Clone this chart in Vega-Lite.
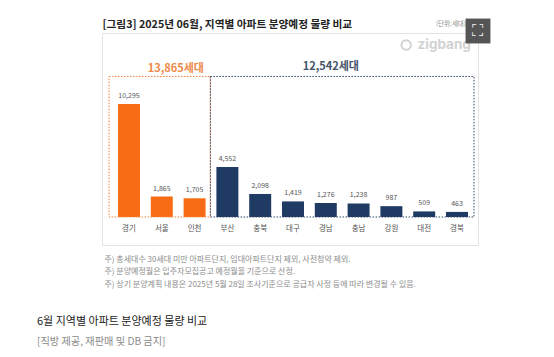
{"$schema":"https://vega.github.io/schema/vega-lite/v6.json","width":376,"height":212,"autosize":"none","padding":{"left":102,"top":33,"right":76,"bottom":112},"background":"white","view":{"stroke":"#e3e3e3","strokeWidth":1},"config":{"font":"Noto Sans CJK KR"},"title":{"text":"6월 지역별 아파트 분양예정 물량 비교","subtitle":"[직방 제공, 재판매 및 DB 금지]","orient":"bottom","anchor":"start","frame":"group","dx":-65,"offset":28,"fontSize":11,"fontWeight":"normal","color":"#222222","subtitleFontSize":10.2,"subtitleColor":"#8a8a8a","subtitlePadding":10,"font":"Noto Sans CJK KR","subtitleFont":"Noto Sans CJK KR"},"datasets":{"bars":[{"region":"경기","units":10295,"group":"수도권"},{"region":"서울","units":1865,"group":"수도권"},{"region":"인천","units":1705,"group":"수도권"},{"region":"부산","units":4552,"group":"지방"},{"region":"충북","units":2098,"group":"지방"},{"region":"대구","units":1419,"group":"지방"},{"region":"경남","units":1276,"group":"지방"},{"region":"충남","units":1238,"group":"지방"},{"region":"강원","units":987,"group":"지방"},{"region":"대전","units":509,"group":"지방"},{"region":"경북","units":463,"group":"지방"}]},"encoding":{"x":{"field":"region","type":"nominal","sort":null,"scale":{"paddingInner":0.33,"paddingOuter":0.397,"align":0.615},"axis":{"title":["주) 총세대수 30세대 미만 아파트단지, 임대아파트단지 제외, 사전청약 제외.","주) 분양예정월은 입주자모집공고 예정월을 기준으로 산정.","주) 상기 분양계획 내용은 2025년 5월 28일 조사기준으로 공급자 사정 등에 따라 변경될 수 있음."],"titleX":2,"titleY":14,"titleAlign":"left","titleBaseline":"middle","titleFontSize":8,"titleFontWeight":"normal","titleColor":"#8c8c8c","titleLineHeight":12.5,"labelAngle":0,"labelFontSize":7.5,"labelColor":"#555555","labelPadding":-21,"ticks":false,"domain":false,"grid":false}},"y":{"type":"quantitative","scale":{"domain":[-2550,16757],"nice":false,"zero":false},"axis":{"title":"[그림3] 2025년 06월, 지역별 아파트 분양예정 물량 비교","titleAngle":0,"titleX":0,"titleY":-9,"titleAlign":"left","titleBaseline":"middle","titleFontSize":10.7,"titleFontWeight":"bold","titleColor":"#222222","labels":false,"ticks":false,"domain":false,"grid":false}}},"layer":[{"data":{"name":"bars"},"mark":{"type":"bar"},"encoding":{"y":{"field":"units","type":"quantitative"},"y2":{"datum":0},"color":{"field":"group","type":"nominal","legend":null,"scale":{"domain":["수도권","지방"],"range":["#F96C16","#1F3A63"]}}}},{"data":{"name":"bars"},"mark":{"type":"text","dy":-8,"fontSize":7,"color":"#555555"},"encoding":{"y":{"field":"units","type":"quantitative"},"text":{"field":"units","type":"quantitative","format":","}}},{"data":{"values":[{"first":"경기","last":"인천"}]},"mark":{"type":"rect","fillOpacity":0,"strokeWidth":1,"strokeDash":[1.5,1.5],"stroke":"#F0813A","xOffset":-9,"x2Offset":4.7},"encoding":{"x":{"field":"first","type":"nominal","bandPosition":0},"x2":{"field":"last","bandPosition":1},"y":{"datum":12800},"y2":{"datum":0}}},{"data":{"values":[{"first":"부산","last":"경북"}]},"mark":{"type":"rect","fillOpacity":0,"strokeWidth":1,"strokeDash":[1.5,1.5],"stroke":"#2F4468","xOffset":-6,"x2Offset":6},"encoding":{"x":{"field":"first","type":"nominal","bandPosition":0},"x2":{"field":"last","bandPosition":1},"y":{"datum":12800},"y2":{"datum":0}}},{"data":{"values":[{"region":"서울","label":"13,865세대"}]},"mark":{"type":"text","fontSize":11,"fontWeight":"bold","color":"#EE8A4A","xOffset":14,"dy":-7},"encoding":{"y":{"datum":12800},"text":{"field":"label"}}},{"data":{"values":[{"region":"경남","label":"12,542세대"}]},"mark":{"type":"text","fontSize":11,"fontWeight":"bold","color":"#44546A","xOffset":5,"dy":-9},"encoding":{"y":{"datum":12800},"text":{"field":"label"}}},{"data":{"values":[{"region":"대전","label":"zigbang"}]},"mark":{"type":"text","font":"Inter","fontSize":13.5,"fontWeight":"bold","color":"#d2d2d2","xOffset":20,"dy":12},"encoding":{"y":{"datum":16757},"text":{"field":"label"}}},{"data":{"values":[{"region":"대전"}]},"mark":{"type":"point","shape":"circle","filled":false,"size":90,"strokeWidth":2,"opacity":1,"color":"#d2d2d2","xOffset":-18,"yOffset":12},"encoding":{"y":{"datum":16757}}},{"data":{"values":[{"region":"경북","label":"(단위:세대)"}]},"mark":{"type":"text","fontSize":6.5,"color":"#8c8c8c","xOffset":-6,"dy":-9},"encoding":{"y":{"datum":16757},"text":{"field":"label"}}},{"data":{"values":[{"region":"경북"}]},"mark":{"type":"point","shape":"square","filled":true,"size":620,"opacity":1,"color":"#555555","xOffset":21,"yOffset":-2,"clip":false},"encoding":{"y":{"datum":16757}}},{"data":{"values":[{"region":"경북","label":"⛶"}]},"mark":{"type":"text","fontSize":16,"font":"DejaVu Sans","color":"white","xOffset":21,"dy":-2},"encoding":{"y":{"datum":16757},"text":{"field":"label"}}}]}
